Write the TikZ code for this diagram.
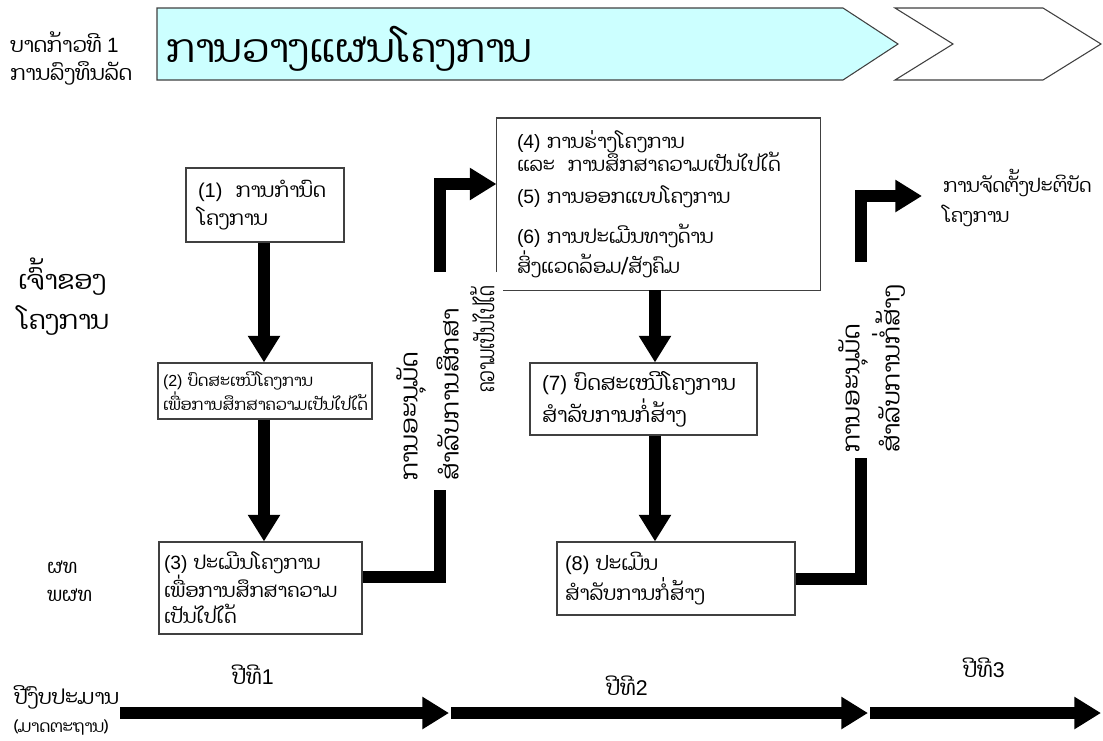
\documentclass[tikz,border=0pt]{standalone}
\usepackage{fontspec}
\setmainfont{Liberation Sans}
\newfontfamily\lao[Script=Lao]{Dhyana}
\usetikzlibrary{arrows.meta}
\definecolor{hdrcyan}{HTML}{CCFFFF}
\definecolor{edgegray}{HTML}{404040}
\newcommand\fs[2]{\fontsize{#1}{#2}\selectfont}
\begin{document}
\begin{tikzpicture}[x=0.75pt,y=-0.75pt,
  box/.style={draw=edgegray, line width=0.8pt, align=left, inner xsep=0pt, inner ysep=0pt},
  lbl/.style={inner sep=0pt, align=left},
  bar/.style={line width=9pt},
  bararrow/.style={line width=9pt, -{Triangle[length=20pt,width=23pt]}},
  hdr/.style={draw=edgegray, line width=0.8pt},
]
\useasboundingbox (0,0) rectangle (1103,740);

% header
\draw[hdr, fill=hdrcyan] (157,8) -- (843,8) -- (898,44) -- (843,80) -- (157,80) -- cycle;
\draw[hdr, fill=white] (895,8) -- (1043,8) -- (1101,44) -- (1043,80) -- (895,80) -- (953,44) -- cycle;
\node[lbl, anchor=west, font=\lao\fs{29.5}{36}] (title) at (166,49) {ການວາງແຜນໂຄງການ};
\node[lbl, anchor=west, font=\lao\fs{15.5}{21}] (step) at (10,58) {ບາດກ້າວທີ {\rmfamily 1}\\ການລົງທຶນລັດ};

% side labels
\node[lbl, anchor=west, font=\lao\fs{19.5}{30}] (owner) at (18,297) {ເຈົ້າຂອງ\\ໂຄງການ};
\node[lbl, anchor=west, font=\lao\fs{14.5}{21}] (pmo) at (47,581) {ຜທ\\ພຜທ};

% boxes
\node[box, minimum width=118.5pt, minimum height=55.5pt, text width=100.5pt, font=\lao\fs{15}{21}] (b1) at (265,205)
  {{\rmfamily (1)}\ \ ການກຳນົດ\\ໂຄງການ};
\node[box, minimum width=160.5pt, minimum height=42pt, text width=153pt, font=\lao\fs{12}{15.75}] (b2) at (265,391)
  {{\rmfamily (2)} ບົດສະເໜີໂຄງການ\\ເພື່ອການສຶກສາຄວາມເປັນໄປໄດ້};
\node[box, minimum width=152.25pt, minimum height=69pt, text width=144.75pt, font=\lao\fs{14.4}{19.5}] (b3) at (260.5,588)
  {{\rmfamily (3)} ປະເມີນໂຄງການ\\ເພື່ອການສຶກສາຄວາມ\\ເປັນໄປໄດ້};
\node[box, draw=none, minimum width=242.25pt, minimum height=128.25pt, text width=212.25pt, font=\lao\fs{14.5}{18}] (b4) at (658.5,204)
  {{\rmfamily (4)} ການຮ່າງໂຄງການ\\[-1pt]ແລະ\ \ ການສຶກສາຄວາມເປັນໄປໄດ້\\[6pt]{\rmfamily (5)} ການອອກແບບໂຄງການ\\[12pt]{\rmfamily (6)} ການປະເມີນທາງດ້ານ\\[1pt]ສິ່ງແວດລ້ອມ/ສັງຄົມ};
\draw[edgegray, line width=0.8pt] (b4.north west |- 0,272) -- (b4.north west) -- (b4.north east) -- (b4.south east) -- (b4.south east -| 503,0);
\node[box, minimum width=170.25pt, minimum height=54pt, text width=152.25pt, font=\lao\fs{15.5}{24}] (b7) at (643.5,399)
  {{\rmfamily (7)} ບົດສະເໜີໂຄງການ\\ສຳລັບການກໍ່ສ້າງ};
\node[box, minimum width=178.5pt, minimum height=54.75pt, text width=166.5pt, font=\lao\fs{15}{22.5}] (b8) at (676,578.5)
  {{\rmfamily (8)} ປະເມີນ\\ສຳລັບການກໍ່ສ້າງ};

% vertical arrows
\draw[bararrow] (b1.south -| 264,0) -- (b2.north -| 264,0);
\draw[bararrow] (b2.south -| 264,0) -- (b3.north -| 264,0);
\draw[bararrow] (b4.south -| 655,0) -- (b7.north -| 655,0);
\draw[bararrow] (b7.south -| 655,0) -- (b8.north -| 655,0);

% approval for feasibility study
\coordinate (g1) at (440,490);
\coordinate (g2) at (440,272);
\draw[bar] (b3.east |- 0,577) -| (g1);
\draw[bararrow] (g2) |- (b4.north west |- 0,184);
\node[lbl, rotate=90, anchor=north west, font=\lao\fs{18}{30.75}] (appr) at (396,481) {ການອະນຸມັດ\\ສຳລັບການສຶກສາ};
\node[lbl, rotate=90, anchor=north west, font=\lao\fs{18}{30.75}] (appr3) at (470,393) {\scalebox{0.7}[1]{ຄວາມເປັນໄປໄດ້}};

% approval for construction
\coordinate (g3) at (861,458);
\coordinate (g4) at (861,262);
\coordinate (tip) at (922,196);
\draw[bar] (b8.east) -| (g3);
\draw[bararrow] (g4) |- (tip);
\node[lbl, rotate=90, anchor=north west, font=\lao\fs{18}{30}] (cons) at (838,453) {ການອະນຸມັດ\\ສຳລັບການກໍ່ສ້າງ};
\node[lbl, anchor=west, font=\lao\fs{14.2}{22.5}] (impl) at (943,198) {ການຈັດຕັ້ງປະຕິບັດ\\ໂຄງການ};

% timeline
\node[lbl, anchor=west, font=\lao\fs{15.5}{21}] (fy) at (14,697) {ປີງົບປະມານ};
\node[lbl, anchor=west, font=\lao\fs{12.5}{14}] (fy2) at (14,727) {(ມາດຕະຖານ)};
\node[lbl, font=\lao\fs{16}{18}] (y1) at (253,675) {ປີທີ{\rmfamily 1}};
\node[lbl, font=\lao\fs{16}{18}] (y2) at (627,686) {ປີທີ{\rmfamily 2}};
\node[lbl, font=\lao\fs{16}{18}] (y3) at (984,668) {ປີທີ{\rmfamily 3}};
\coordinate (t0) at (120,713);
\coordinate (t1) at (449,713);
\coordinate (t2) at (451,713);
\coordinate (t3) at (868,713);
\coordinate (t4) at (870,713);
\coordinate (t5) at (1101,713);
\draw[bararrow] (t0) -- (t1);
\draw[bararrow] (t2) -- (t3);
\draw[bararrow] (t4) -- (t5);
\end{tikzpicture}
\end{document}
